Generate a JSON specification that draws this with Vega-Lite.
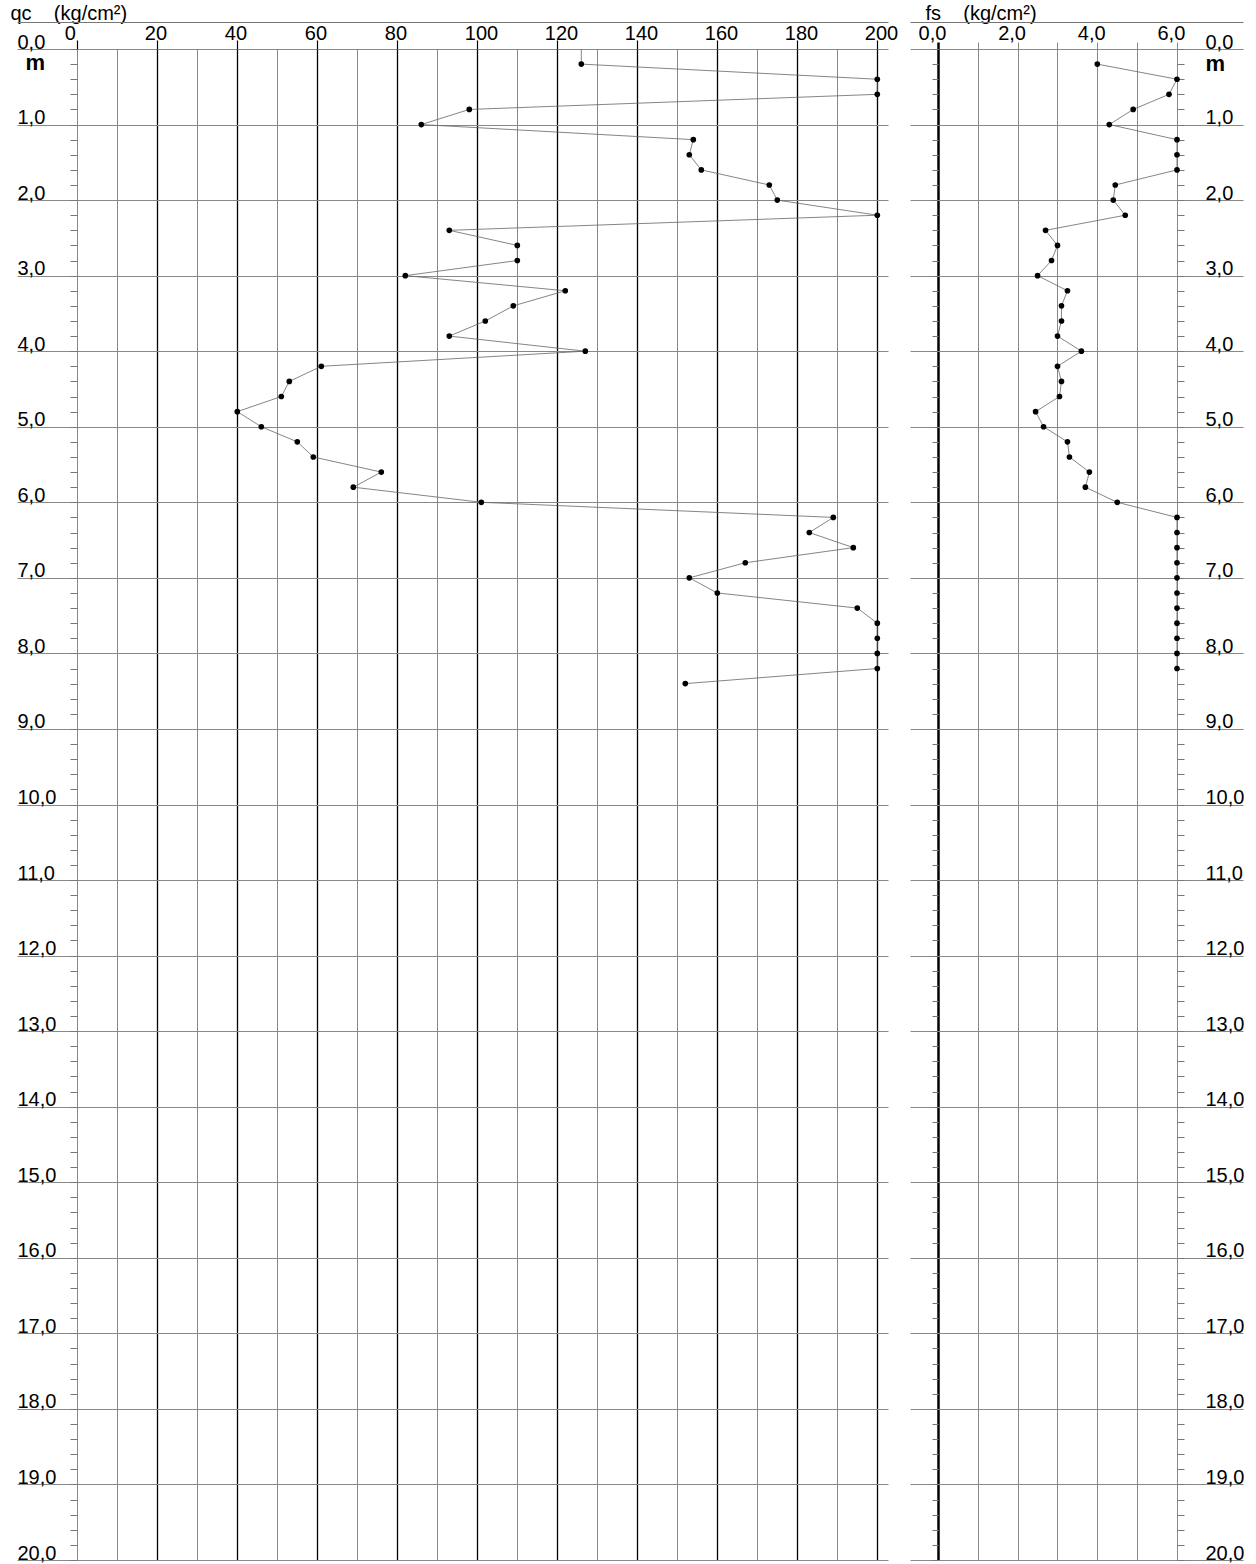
{
  "$schema": "https://vega.github.io/schema/vega-lite/v6.json",
  "autosize": {"type": "pad"},
  "padding": {"left": 10, "top": 3, "right": 0, "bottom": 0},
  "bounds": "flush",
  "spacing": 22,
  "config": {
    "view": {"stroke": null},
    "font": "Liberation Sans",
    "axis": {"labelFont": "Liberation Sans", "titleFont": "Liberation Sans", "labelColor": "#000", "titleColor": "#000"}
  },
  "data": {
    "values": [
      {"depth": 0.0, "qc": 126, "fs": null},
      {"depth": 0.2, "qc": 126, "fs": 4.0},
      {"depth": 0.4, "qc": 200, "fs": 6.0},
      {"depth": 0.6, "qc": 200, "fs": 5.8},
      {"depth": 0.8, "qc": 98, "fs": 4.9},
      {"depth": 1.0, "qc": 86, "fs": 4.3},
      {"depth": 1.2, "qc": 154, "fs": 6.0},
      {"depth": 1.4, "qc": 153, "fs": 6.0},
      {"depth": 1.6, "qc": 156, "fs": 6.0},
      {"depth": 1.8, "qc": 173, "fs": 4.45},
      {"depth": 2.0, "qc": 175, "fs": 4.4},
      {"depth": 2.2, "qc": 200, "fs": 4.7},
      {"depth": 2.4, "qc": 93, "fs": 2.7},
      {"depth": 2.6, "qc": 110, "fs": 3.0},
      {"depth": 2.8, "qc": 110, "fs": 2.85},
      {"depth": 3.0, "qc": 82, "fs": 2.5},
      {"depth": 3.2, "qc": 122, "fs": 3.25},
      {"depth": 3.4, "qc": 109, "fs": 3.1},
      {"depth": 3.6, "qc": 102, "fs": 3.1},
      {"depth": 3.8, "qc": 93, "fs": 3.0},
      {"depth": 4.0, "qc": 127, "fs": 3.6},
      {"depth": 4.2, "qc": 61, "fs": 3.0},
      {"depth": 4.4, "qc": 53, "fs": 3.1},
      {"depth": 4.6, "qc": 51, "fs": 3.05},
      {"depth": 4.8, "qc": 40, "fs": 2.45},
      {"depth": 5.0, "qc": 46, "fs": 2.65},
      {"depth": 5.2, "qc": 55, "fs": 3.25},
      {"depth": 5.4, "qc": 59, "fs": 3.3},
      {"depth": 5.6, "qc": 76, "fs": 3.8},
      {"depth": 5.8, "qc": 69, "fs": 3.7},
      {"depth": 6.0, "qc": 101, "fs": 4.5},
      {"depth": 6.2, "qc": 189, "fs": 6.0},
      {"depth": 6.4, "qc": 183, "fs": 6.0},
      {"depth": 6.6, "qc": 194, "fs": 6.0},
      {"depth": 6.8, "qc": 167, "fs": 6.0},
      {"depth": 7.0, "qc": 153, "fs": 6.0},
      {"depth": 7.2, "qc": 160, "fs": 6.0},
      {"depth": 7.4, "qc": 195, "fs": 6.0},
      {"depth": 7.6, "qc": 200, "fs": 6.0},
      {"depth": 7.8, "qc": 200, "fs": 6.0},
      {"depth": 8.0, "qc": 200, "fs": 6.0},
      {"depth": 8.2, "qc": 200, "fs": 6.0},
      {"depth": 8.4, "qc": 152, "fs": null}
    ]
  },
  "hconcat": [
    {
      "width": 871,
      "height": 1511,
      "layer": [
        {
          "transform": [{"filter": "isValid(datum.qc)"}],
          "mark": {"type": "line", "color": "#666", "strokeWidth": 0.8},
          "encoding": {
            "x": {
              "field": "qc", "type": "quantitative",
              "scale": {"domain": [-15.075, 202.675], "nice": false, "zero": false},
              "axis": {
                "orient": "top",
                "values": [0,10,20,30,40,50,60,70,80,90,100,110,120,130,140,150,160,170,180,190,200],
                "title": "qc\u00a0\u00a0\u00a0\u00a0(kg/cm²)",
                "titleX": -7, "titleY": -30, "titleAlign": "left", "titleBaseline": "alphabetic",
                "titleAngle": 0, "titleFontSize": 20, "titleFontWeight": "normal",
                "labelFontSize": 20, "labelAlign": "left", "labelBaseline": "alphabetic",
                "labelOffset": -13, "labelPadding": 1,
                "labelBound": false, "labelFlush": false, "labelOverlap": false,
                "labelExpr": "datum.value % 20 === 0 ? datum.label : ''",
                "ticks": true, "tickSize": 9, "tickColor": "#000", "tickWidth": 1.2,
                "tickOpacity": {"condition": {"test": "datum.value % 20 === 0", "value": 1}, "value": 0},
                "grid": true,
                "gridColor": {"condition": {"test": "datum.value % 20 === 0 && datum.value > 0", "value": "#000"}, "value": "#888"},
                "gridWidth": {"condition": {"test": "datum.value % 20 === 0 && datum.value > 0", "value": 1.3}, "value": 1},
                "domain": false
              }
            },
            "y": {
              "field": "depth", "type": "quantitative",
              "scale": {"domain": [0, 20], "reverse": true, "nice": false, "zero": false},
              "axis": {
                "orient": "left",
                "values": [0,1,2,3,4,5,6,7,8,9,10,11,12,13,14,15,16,17,18,19,20],
                "labelExpr": "replace(format(datum.value, '.1f'), '.', ',')",
                "labelAlign": "left", "labelBaseline": "alphabetic",
                "labelPadding": 0, "labelOffset": -1, "labelFontSize": 20,
                "labelBound": false, "labelFlush": false, "labelOverlap": false,
                "ticks": false, "tickSize": 0, "domain": false,
                "grid": true, "gridColor": "#888", "gridWidth": 1,
                "title": "m", "titleAngle": 0, "titleX": 8, "titleY": 20,
                "titleAlign": "left", "titleBaseline": "alphabetic",
                "titleFontSize": 22, "titleFontWeight": "bold"
              }
            },
            "order": {"field": "depth", "type": "quantitative"}
          }
        },
        {
          "transform": [{"filter": "datum.depth > 0 && isValid(datum.qc)"}],
          "mark": {"type": "circle", "color": "#000", "size": 32, "opacity": 1},
          "encoding": {
            "x": {
              "field": "qc", "type": "quantitative",
              "axis": {"orient": "top", "offset": 27, "domain": true, "domainColor": "#777", "domainWidth": 1,
                       "labels": false, "ticks": false, "grid": false, "title": null}
            },
            "y": {
              "field": "depth", "type": "quantitative",
              "axis": {
                "orient": "left", "offset": -60,
                "values": [0,0.2,0.4,0.6,0.8,1,1.2,1.4,1.6,1.8,2,2.2,2.4,2.6,2.8,3,3.2,3.4,3.6,3.8,4,4.2,4.4,4.6,4.8,5,5.2,5.4,5.6,5.8,6,6.2,6.4,6.6,6.8,7,7.2,7.4,7.6,7.8,8,8.2,8.4,8.6,8.8,9,9.2,9.4,9.6,9.8,10,10.2,10.4,10.6,10.8,11,11.2,11.4,11.6,11.8,12,12.2,12.4,12.6,12.8,13,13.2,13.4,13.6,13.8,14,14.2,14.4,14.6,14.8,15,15.2,15.4,15.6,15.8,16,16.2,16.4,16.6,16.8,17,17.2,17.4,17.6,17.8,18,18.2,18.4,18.6,18.8,19,19.2,19.4,19.6,19.8,20],
                "domain": false, "labels": false, "grid": false,
                "ticks": true, "tickSize": 7, "tickColor": "#777", "tickWidth": 1, "title": null
              }
            }
          }
        }
      ],
      "resolve": {"axis": {"x": "independent", "y": "independent"}}
    },
    {
      "width": 333,
      "height": 1511,
      "layer": [
        {
          "transform": [{"filter": "isValid(datum.fs)"}],
          "mark": {"type": "line", "color": "#666", "strokeWidth": 0.8},
          "encoding": {
            "x": {
              "field": "fs", "type": "quantitative",
              "scale": {"domain": [-0.703, 7.657], "nice": false, "zero": false},
              "axis": {
                "orient": "top",
                "values": [0,1,2,3,4,5,6],
                "title": "fs\u00a0\u00a0\u00a0\u00a0(kg/cm²)",
                "titleX": 15, "titleY": -30, "titleAlign": "left", "titleBaseline": "alphabetic",
                "titleAngle": 0, "titleFontSize": 20, "titleFontWeight": "normal",
                "labelFontSize": 20, "labelAlign": "left", "labelBaseline": "alphabetic",
                "labelOffset": -20, "labelPadding": 3,
                "labelBound": false, "labelFlush": false, "labelOverlap": false,
                "labelExpr": "datum.value % 2 === 0 ? replace(format(datum.value, '.1f'), '.', ',') : ''",
                "ticks": true, "tickSize": 7,
                "tickColor": {"condition": {"test": "datum.value === 0", "value": "#000"}, "value": "#888"},
                "tickWidth": {"condition": {"test": "datum.value === 0", "value": 2.5}, "value": 1},
                "grid": true,
                "gridColor": {"condition": {"test": "datum.value === 0", "value": "#000"}, "value": "#888"},
                "gridWidth": {"condition": {"test": "datum.value === 0", "value": 2.5}, "value": 1},
                "domain": false
              }
            },
            "y": {
              "field": "depth", "type": "quantitative",
              "scale": {"domain": [0, 20], "reverse": true, "nice": false, "zero": false},
              "axis": {
                "orient": "right",
                "values": [0,1,2,3,4,5,6,7,8,9,10,11,12,13,14,15,16,17,18,19,20],
                "labelExpr": "replace(format(datum.value, '.1f'), '.', ',')",
                "labelAlign": "left", "labelBaseline": "alphabetic",
                "labelPadding": -38, "labelOffset": -1, "labelFontSize": 20,
                "labelBound": false, "labelFlush": false, "labelOverlap": false,
                "ticks": false, "tickSize": 0, "domain": false,
                "grid": true, "gridColor": "#888", "gridWidth": 1,
                "title": "m", "titleAngle": 0, "titleX": -38, "titleY": 21,
                "titleAlign": "left", "titleBaseline": "alphabetic",
                "titleFontSize": 22, "titleFontWeight": "bold"
              }
            },
            "order": {"field": "depth", "type": "quantitative"}
          }
        },
        {
          "transform": [{"filter": "isValid(datum.fs)"}],
          "mark": {"type": "circle", "color": "#000", "size": 32, "opacity": 1},
          "encoding": {
            "x": {
              "field": "fs", "type": "quantitative",
              "axis": {"orient": "top", "offset": 27, "domain": true, "domainColor": "#777", "domainWidth": 1,
                       "labels": false, "ticks": false, "grid": false, "title": null}
            },
            "y": {
              "field": "depth", "type": "quantitative",
              "axis": {
                "orient": "left", "offset": -28,
                "values": [0,0.2,0.4,0.6,0.8,1,1.2,1.4,1.6,1.8,2,2.2,2.4,2.6,2.8,3,3.2,3.4,3.6,3.8,4,4.2,4.4,4.6,4.8,5,5.2,5.4,5.6,5.8,6,6.2,6.4,6.6,6.8,7,7.2,7.4,7.6,7.8,8,8.2,8.4,8.6,8.8,9,9.2,9.4,9.6,9.8,10,10.2,10.4,10.6,10.8,11,11.2,11.4,11.6,11.8,12,12.2,12.4,12.6,12.8,13,13.2,13.4,13.6,13.8,14,14.2,14.4,14.6,14.8,15,15.2,15.4,15.6,15.8,16,16.2,16.4,16.6,16.8,17,17.2,17.4,17.6,17.8,18,18.2,18.4,18.6,18.8,19,19.2,19.4,19.6,19.8,20],
                "domain": false, "labels": false, "grid": false,
                "ticks": true, "tickSize": 6, "tickColor": "#777", "tickWidth": 1, "title": null
              }
            }
          }
        },
        {
          "transform": [{"filter": "isValid(datum.fs)"}],
          "mark": {"type": "circle", "color": "#000", "size": 32, "opacity": 0},
          "encoding": {
            "x": {"field": "fs", "type": "quantitative", "axis": null},
            "y": {
              "field": "depth", "type": "quantitative",
              "axis": {
                "orient": "right", "offset": -66,
                "values": [0,0.2,0.4,0.6,0.8,1,1.2,1.4,1.6,1.8,2,2.2,2.4,2.6,2.8,3,3.2,3.4,3.6,3.8,4,4.2,4.4,4.6,4.8,5,5.2,5.4,5.6,5.8,6,6.2,6.4,6.6,6.8,7,7.2,7.4,7.6,7.8,8,8.2,8.4,8.6,8.8,9,9.2,9.4,9.6,9.8,10,10.2,10.4,10.6,10.8,11,11.2,11.4,11.6,11.8,12,12.2,12.4,12.6,12.8,13,13.2,13.4,13.6,13.8,14,14.2,14.4,14.6,14.8,15,15.2,15.4,15.6,15.8,16,16.2,16.4,16.6,16.8,17,17.2,17.4,17.6,17.8,18,18.2,18.4,18.6,18.8,19,19.2,19.4,19.6,19.8,20],
                "domain": false, "labels": false, "grid": false,
                "ticks": true, "tickSize": 7, "tickColor": "#777", "tickWidth": 1, "title": null
              }
            }
          }
        }
      ],
      "resolve": {"axis": {"x": "independent", "y": "independent"}}
    }
  ]
}
